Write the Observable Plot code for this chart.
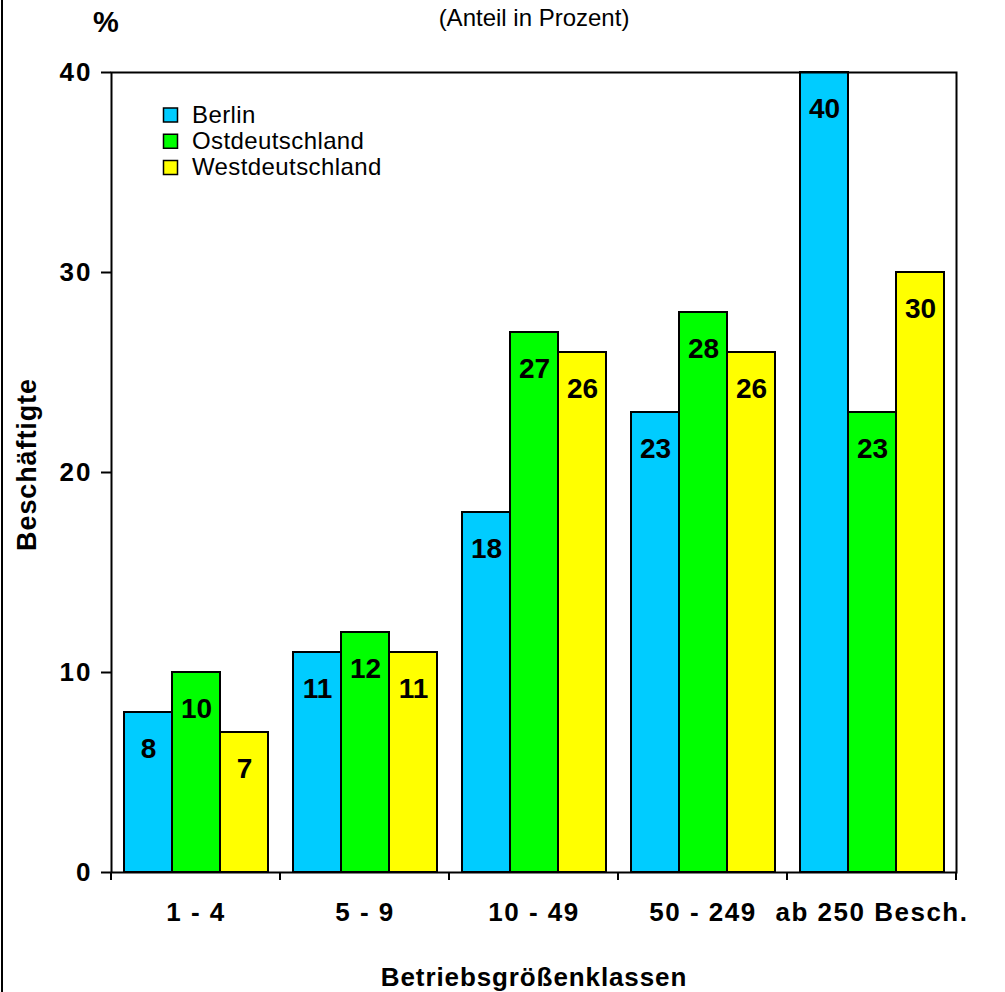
<!DOCTYPE html>
<html><head><meta charset="utf-8">
<script src="https://cdn.jsdelivr.net/npm/d3@7"></script>
<script src="https://cdn.jsdelivr.net/npm/@observablehq/plot@0.6"></script>
<style>
body{margin:0;background:#fff}
#chart{position:relative;width:1005px;height:992px;font-family:"Liberation Sans",Arial,sans-serif}
#chart::before{content:"";position:absolute;left:1px;top:0;width:2px;height:992px;background:#000}
#chart svg{display:block}
g[aria-label="y-axis tick label"] text{letter-spacing:2px}
g[aria-label="fx-axis tick label"] text{letter-spacing:1.5px}
</style></head><body><div id="chart"></div>
<script>
const categories = ["1 - 4", "5 - 9", "10 - 49", "50 - 249", "ab 250 Besch."];
const series = ["Berlin", "Ostdeutschland", "Westdeutschland"];
const berlin = [8, 11, 18, 23, 40];
const ost = [10, 12, 27, 28, 23];
const west = [7, 11, 26, 26, 30];
const colors = ["#00CCFF", "#00FF00", "#FFFF00"];
const yTicks = [0, 10, 20, 30, 40];
const yDomain = [0, 40];
const subtitle = "(Anteil in Prozent)";
const yUnit = "%";
const yLabel = "Beschäftigte";
const xLabel = "Betriebsgrößenklassen";

const seriesValues = [berlin, ost, west];
const data = categories.flatMap((c, i) => series.map((s, j) => ({cat: c, series: s, value: seriesValues[j][i]})));

const font = '"Liberation Sans", Arial, sans-serif';

function boundaryRender(index, scales, values, dimensions, context, next) {
  const g = d3.create("svg:g").attr("aria-label", "fx-boundary");
  if (next) { const n = next(index, scales, values, dimensions, context); if (n) g.node().appendChild(n); }
  const raw = (scales.scales && scales.scales.fx) || scales.fx;
  if (!raw) return g.node();
  const bw = typeof raw.bandwidth === "function" ? raw.bandwidth() : raw.bandwidth;
  const st = typeof raw.step === "function" ? raw.step() : raw.step;
  const half = (st - bw) / 2;
  const f = typeof raw === "function" ? raw : raw.apply;
  const xs = categories.map(c => f(c) - half).concat([f(categories[categories.length - 1]) + bw + half]);
  const y0 = dimensions.height - dimensions.marginBottom;
  g.selectAll("line.b").data(xs).join("line").attr("class", "b")
    .attr("x1", d => d).attr("x2", d => d).attr("y1", y0).attr("y2", y0 + 8)
    .attr("stroke", "#000").attr("stroke-width", 2);
  return g.node();
}

const plot = Plot.plot({
  width: 1005,
  height: 992,
  marginLeft: 110,
  marginRight: 48,
  marginTop: 72,
  marginBottom: 120,
  style: {fontFamily: font, background: "#fff", color: "#000"},
  fx: {domain: categories, padding: 0},
  x: {domain: series, paddingInner: 0, paddingOuter: 0.2476, axis: null},
  y: {domain: yDomain},
  color: {domain: series, range: colors},
  marks: [
    Plot.barY(data, {fx: "cat", x: "series", y: "value", fill: "series", stroke: "#000", strokeWidth: 2}),
    Plot.text(data, {fx: "cat", x: "series", y: "value", text: d => String(d.value), dy: 37, lineAnchor: "middle", fontSize: 28, fontWeight: "bold", fill: "#000"}),
    Plot.frame({facet: "super", stroke: "#000", strokeWidth: 2, render: boundaryRender}),
    Plot.axisY({ticks: yTicks, tickFormat: d => String(d), tickSize: 10, tickPadding: 9, fontSize: 26, fontWeight: "bold", strokeWidth: 2, label: null}),
    Plot.axisFx({anchor: "bottom", tickSize: 0, tickPadding: 30, fontSize: 26, fontWeight: "bold", label: null}),
    ...series.map((s, i) => Plot.dot([s], {facet: "super", frameAnchor: "top-left", dx: 59, dy: 42.5 + i * 26.3, symbol: "square", r: 7.9, fill: d => d, stroke: "#000", strokeWidth: 1.5})),
    ...series.map((s, i) => Plot.text([s], {facet: "super", frameAnchor: "top-left", dx: 80.5, dy: 42.5 + i * 26.3, text: d => d, textAnchor: "start", lineAnchor: "middle", fontSize: 24, fill: "#000"})),
    Plot.text([yUnit], {facet: "super", frameAnchor: "top-left", dx: -5.5, dy: -50, text: d => d, textAnchor: "middle", lineAnchor: "middle", fontSize: 29, fontWeight: "bold", fill: "#000"}),
    Plot.text([subtitle], {facet: "super", frameAnchor: "top", dy: -54.5, text: d => d, textAnchor: "middle", lineAnchor: "middle", fontSize: 24, fill: "#000"}),
    Plot.text([yLabel], {facet: "super", frameAnchor: "left", dx: -84, dy: -8, rotate: -90, text: d => d, textAnchor: "middle", lineAnchor: "middle", fontSize: 27, fontWeight: "bold", fill: "#000"}),
    Plot.text([xLabel], {facet: "super", frameAnchor: "bottom", dy: 105, text: d => d, textAnchor: "middle", lineAnchor: "middle", fontSize: 26, fontWeight: "bold", fill: "#000"})
  ]
});
plot.querySelectorAll("text").forEach(t => {
  const s = t.textContent;
  if (s === yLabel) t.style.letterSpacing = "0.9px";
  else if (s === xLabel) t.style.letterSpacing = "0.9px";
  else if (series.includes(s)) t.style.letterSpacing = "0.4px";
});
document.getElementById("chart").appendChild(plot);
</script></body></html>
